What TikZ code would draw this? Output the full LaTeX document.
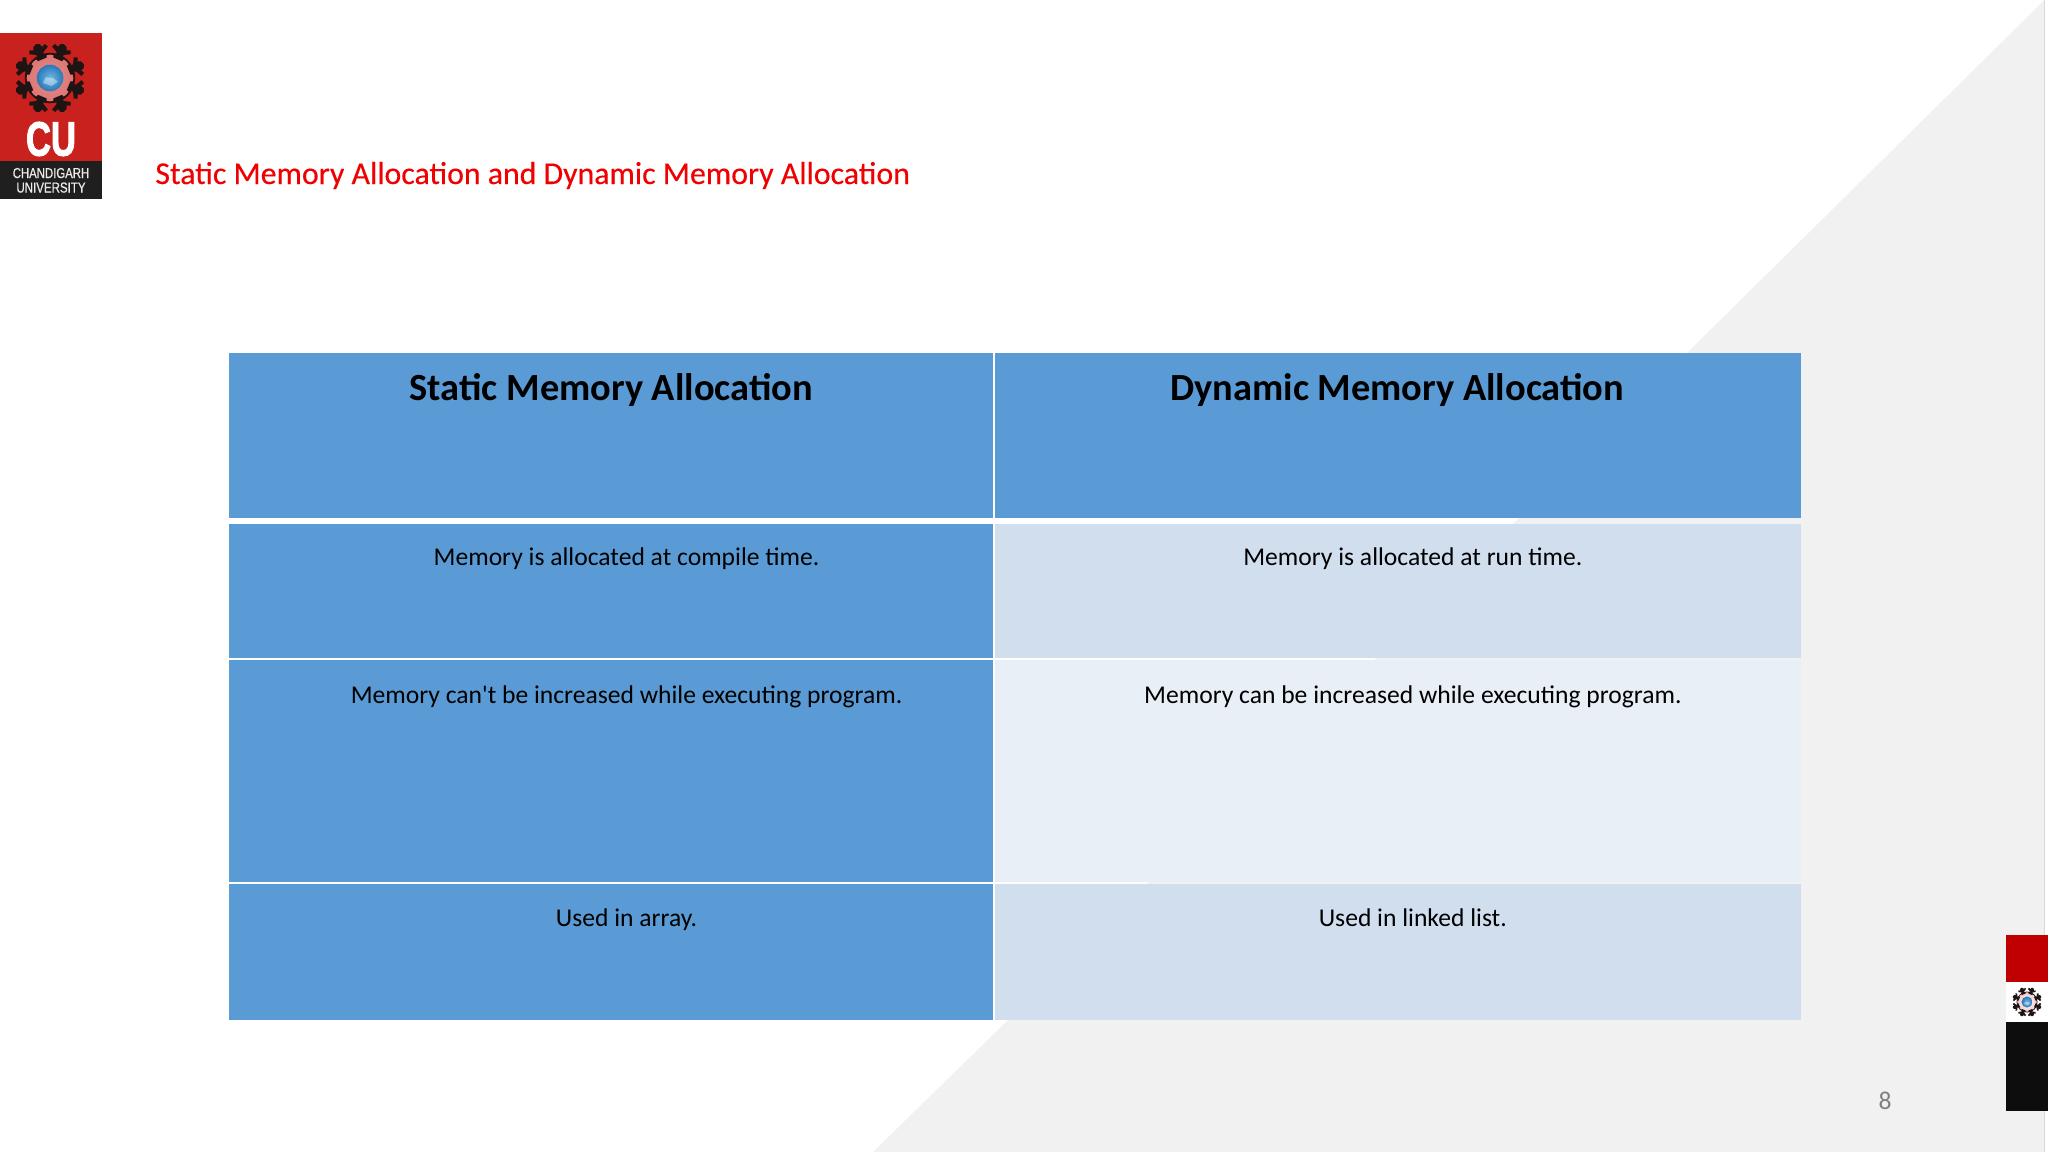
\documentclass[tikz,border=0pt]{standalone}
\usepackage{fontspec}
\setmainfont{Carlito}
\newfontfamily\plaincarlito{Carlito}
\newfontfamily\logofont{Liberation Sans}
\newfontfamily\logoheavy[FakeBold=2.5]{Liberation Sans Bold}
\definecolor{cellblue}{HTML}{5B9BD5}
\definecolor{cellmid}{HTML}{D1DEEE}
\definecolor{celllight}{HTML}{E9EFF7}
\definecolor{panelgrey}{HTML}{F1F1F1}
\definecolor{edgegrey}{HTML}{D9D9D9}
\definecolor{cured}{HTML}{C9211E}
\definecolor{titlered}{HTML}{F00000}
\definecolor{barred}{HTML}{C00000}
\definecolor{barblack}{HTML}{0D0D0D}
\definecolor{globein}{HTML}{6FB8E2}
\definecolor{globeout}{HTML}{2A78B8}
\definecolor{figdark}{HTML}{1E1414}
\tikzset{
  headtext/.style={anchor=base,inner sep=0pt,text=black,font=\fontsize{19.2}{23}\selectfont\bfseries},
  bodytext/.style={anchor=base,inner sep=0pt,text=black,font=\fontsize{12.8}{15}\selectfont},
  logotext/.style={anchor=base,inner sep=0pt,text=white!92!black,font=\logofont\addfontfeature{FakeBold=0.8}\fontsize{7.2}{8}\selectfont},
}
\newcommand{\cuemblem}[4]{%
  \begin{scope}[shift={(#1,#2)},x=#3,y=#3]
    \shade[inner color=#4,outer color=#4!75!cured] (0,0) circle (0.66);
    \fill[figdark,even odd rule] (0,0) circle (0.70) (0,0) circle (0.65);
    \foreach \a in {22.5,67.5,...,360}{
      \fill[figdark,rotate=\a] (0,0.88) circle (0.135);
      \fill[figdark,rotate=\a] (-0.13,0.56)--(0.13,0.56)--(0.16,0.64)--(0.09,0.68)--(0.11,0.74)--(0.28,0.83)--(0.23,0.93)--(0.05,0.84)--(-0.05,0.84)--(-0.23,0.93)--(-0.28,0.83)--(-0.11,0.74)--(-0.09,0.68)--(-0.16,0.64)--cycle;
    }
    \shade[inner color=globein,outer color=globeout] (0,0) circle (0.37);
    \fill[white,opacity=0.4] (-0.2,-0.14) -- (0.05,-0.22) -- (0.22,-0.1) -- (0.08,0.0) -- (-0.12,0.02) -- cycle;
  \end{scope}}
\begin{document}
\begin{tikzpicture}[x=0.5pt,y=-0.5pt]
\useasboundingbox (0,0) rectangle (2048,1152);
\fill[white] (0,0) rectangle (2048,1152);
% background panel
\fill[panelgrey] (2044.5,1152) -- (873,1152) -- (1006,1022) -- (1688,352) -- (2044.5,0) -- cycle;
\draw[edgegrey,line width=0.5pt] (2044.5,0) -- (2044.5,1152);
% logo
\fill[cured] (0,33) rectangle (102,199);
\cuemblem{50}{78}{18pt}{white!50!cured}
\fill[black!88] (0,161) rectangle (102,199);
\node (logocu) at (51,139) [inner sep=0pt,text=white,font=\logoheavy\fontsize{24}{26}\selectfont,xscale=0.72] {CU};
\node (logoa) at (51,178) [logotext,xscale=0.79] {CHANDIGARH};
\node (logob) at (51,192.5) [logotext,xscale=0.8] {UNIVERSITY};
% title
\node (title) at (155,184) [anchor=base west,inner sep=0pt,text=titlered,font=\addfontfeature{FakeBold=0.3}\fontsize{15.9}{19}\selectfont] {Static Memory Allocation and Dynamic Memory Allocation};
% table
\fill[cellblue] (229,352.5) rectangle (992.5,518.3);
\fill[cellblue] (994.5,352.5) rectangle (1801,518.3);
\node (h1) at (611.3,400) [headtext] {Static Memory Allocation};
\node (h2) at (1397.3,400) [headtext] {Dynamic Memory Allocation};
\fill[cellblue] (229,524) rectangle (992.5,658.3);
\fill[cellmid] (994.5,524) rectangle (1801,658.3);
\node (a1) at (626.5,565) [bodytext] {Memory is allocated at compile time.};
\node (a2) at (1412.8,565) [bodytext] {Memory is allocated at run time.};
\fill[cellblue] (229,660) rectangle (992.5,882);
\fill[celllight] (994.5,660) rectangle (1801,882);
\node (b1) at (626.5,703) [bodytext] {\plaincarlito Memory can't be increased while executing program.};
\node (b2) at (1412.8,703) [bodytext] {Memory can be increased while executing program.};
\fill[cellblue] (229,884) rectangle (992.5,1020);
\fill[cellmid] (994.5,884) rectangle (1801,1020);
\node (c1) at (626.5,926.5) [bodytext] {Used in array.};
\node (c2) at (1412.8,926.5) [bodytext] {Used in linked list.};
% page number
\node (page) at (1885,1109) [anchor=base,inner sep=0pt,text=black!50,font=\fontsize{12.8}{15}\selectfont] {8};
% right bar
\fill[barred] (2006,935) rectangle (2048,982);
\fill[white] (2006,982) rectangle (2048,1022);
\fill[barblack] (2006,1022) rectangle (2048,1111);
\cuemblem{2027}{1002}{7.5pt}{white}
\end{tikzpicture}
\end{document}
